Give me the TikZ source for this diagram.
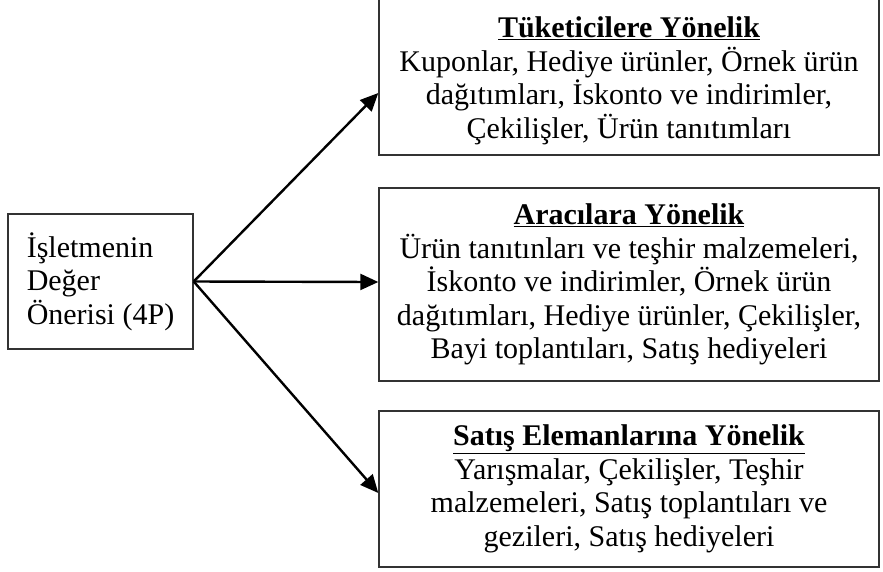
\documentclass[tikz,border=0pt]{standalone}
\usepackage{fontspec}
\setmainfont{Liberation Serif}
\usetikzlibrary{arrows.meta}
\begin{document}
\begin{tikzpicture}[x=1pt,y=-1pt,
  txt/.style={font=\fontsize{30}{33.5}\selectfont},
  frame/.style={txt, draw=black!80, line width=1.4pt, inner sep=0pt},
  box/.style={frame, minimum width=500pt, align=center},
  arr/.style={line width=2.4pt, -{Triangle[length=18pt,width=16pt]}}]
\useasboundingbox (0,0) rectangle (883,571);

% source box
\node[frame, minimum width=185pt, minimum height=135pt, align=left]
  (prop) at (100.5,281.5) {İşletmenin\\Değer\\Önerisi (4P)};

% target boxes
\node[box, minimum height=170pt] (cons) at (629,70)
  {\rule{0pt}{42pt}\underline{\textbf{Tüketicilere Yönelik}}\\
   Kuponlar, Hediye ürünler, Örnek ürün\\
   dağıtımları, İskonto ve indirimler,\\
   Çekilişler, Ürün tanıtımları};
\node[box, minimum height=193pt] (inter) at (629,284.5)
  {\underline{\textbf{Aracılara Yönelik}}\\
   Ürün tanıtınları ve teşhir malzemeleri,\\
   İskonto ve indirimler, Örnek ürün\\
   dağıtımları, Hediye ürünler, Çekilişler,\\
   Bayi toplantıları, Satış hediyeleri};
\node[box, minimum height=156pt] (sales) at (629,489)
  {\underline{\textbf{Satış Elemanlarına Yönelik}}\\
   Yarışmalar, Çekilişler, Teşhir\\
   malzemeleri, Satış toplantıları ve\\
   gezileri, Satış hediyeleri};

% connectors
\coordinate (src) at (prop.east);
\draw[arr] (src) -- ([yshift=-23pt]cons.west);
\draw[arr] (src) -- ([yshift=2.5pt]inter.west);
\draw[arr] (src) -- ([yshift=-4pt]sales.west);
\end{tikzpicture}
\end{document}
